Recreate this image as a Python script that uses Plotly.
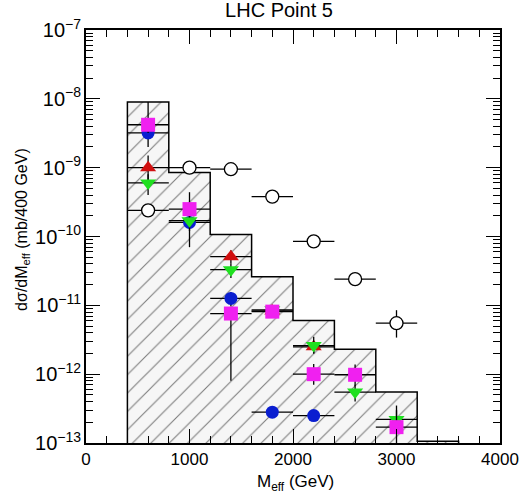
import plotly.graph_objects as go
import numpy as np

# ---- data ----
bin_edges = [400, 800, 1200, 1600, 2000, 2400, 2800, 3200, 3600]
hist_vals = [9.0e-9, 8.5e-10, 1.07e-10, 2.6e-11, 6.0e-12, 2.3e-12, 5.5e-13, 1.06e-13]

x_open = [600, 1000, 1400, 1800, 2200, 2600, 3000]
y_open = [2.4e-10, 1.0e-9, 9.5e-10, 3.8e-10, 8.5e-11, 2.4e-11, 5.5e-12]
up_open = [0.3e-10, 0.1e-9, 0.1e-9, 0.4e-10, 1.0e-11, 3.0e-12, 3.0e-12]
dn_open = [0.3e-10, 0.1e-9, 0.1e-9, 0.4e-10, 1.0e-11, 3.0e-12, 2.1e-12]

x_red = [600, 1400, 1800, 2200]
y_red = [1.0e-9, 5.1e-11, 8.3e-12, 2.5e-12]
up_red = [0.5e-9, 1.2e-11, 1.5e-12, 0.5e-12]
dn_red = [0.4e-9, 1.0e-11, 1.5e-12, 0.5e-12]

x_green = [600, 1000, 1400, 1800, 2200, 2600, 3000]
y_green = [6.0e-10, 1.7e-10, 3.3e-11, 8.6e-12, 2.6e-12, 5.5e-13, 2.2e-13]
up_green = [2.0e-10, 0.5e-10, 0.8e-11, 1.5e-12, 0.9e-12, 1.5e-13, 0.8e-13]
dn_green = [2.0e-10, 1.0e-10, 0.8e-11, 1.5e-12, 0.6e-12, 1.5e-13, 0.7e-13]

x_blue = [600, 1000, 1400, 1800, 2200]
y_blue = [3.2e-9, 1.6e-10, 1.26e-11, 2.8e-13, 2.5e-13]
up_blue = [1.3e-9, 0.4e-10, 0.3e-11, 0.5e-13, 0.5e-13]
dn_blue = [1.2e-9, 0.4e-10, 0.3e-11, 0.5e-13, 0.4e-13]

x_mag = [600, 1000, 1400, 1800, 2200, 2600, 3000]
y_mag = [4.2e-9, 2.5e-10, 7.6e-12, 8.1e-12, 1.0e-12, 9.8e-13, 1.7e-13]
up_mag = [4.8e-9, 1.9e-10, 1.5e-12, 1.5e-12, 0.4e-12, 0.4e-12, 1.8e-13]
dn_mag = [1.0e-9, 0.6e-10, 6.8e-12, 1.5e-12, 0.3e-12, 0.3e-12, 0.7e-13]

half_bin = 200
y_floor = 1e-13

# ---- histogram outline path from bins ----
hx, hy = [bin_edges[0]], [y_floor]
for i, v in enumerate(hist_vals):
    hx += [bin_edges[i], bin_edges[i + 1]]
    hy += [v, v]
hx.append(bin_edges[-1])
hy.append(y_floor)

fig = go.Figure()
fig.add_trace(go.Scatter(
    x=hx, y=hy, mode="lines", fill="toself",
    line=dict(color="black", width=1.5),
    fillcolor="#f6f6f6",
    fillpattern=dict(shape="/", fgcolor="black", bgcolor="#f6f6f6", size=13, solidity=0.08),
    hoverinfo="skip", showlegend=False,
))


def add_series(x, y, up, dn, symbol, color, size, line_color=None, line_width=0):
    fig.add_trace(go.Scatter(
        x=x, y=y, mode="markers",
        marker=dict(symbol=symbol, color=color, size=size,
                    line=dict(color=line_color or color, width=line_width)),
        error_x=dict(type="constant", value=half_bin, color="black", thickness=1.3, width=0),
        error_y=dict(type="data", symmetric=False, array=up, arrayminus=dn,
                     color="black", thickness=1.3, width=0),
        showlegend=False,
    ))


add_series(x_open, y_open, up_open, dn_open, "circle", "white", 13, "black", 1.3)
add_series(x_blue, y_blue, up_blue, dn_blue, "circle", "#0a1ed0", 13)
add_series(x_red, y_red, up_red, dn_red, "triangle-up", "#d01010", 14)
add_series(x_green, y_green, up_green, dn_green, "triangle-down", "#20e020", 14)
add_series(x_mag, y_mag, up_mag, dn_mag, "square", "#f020f0", 14)

font = "Liberation Sans, Arial, sans-serif"
fig.update_layout(
    width=521, height=499,
    margin=dict(l=86, r=21, t=30, b=56),
    paper_bgcolor="white", plot_bgcolor="white",
    font=dict(family=font, size=16, color="black"),
    title=dict(text="LHC Point 5", x=0.5355, xanchor="center", y=0.979, yanchor="middle",
               font=dict(size=20, family=font)),
    showlegend=False,
    annotations=[
        dict(text="dσ/dM<sub>eff</sub> (mb/400 GeV)", xref="paper", yref="paper",
             x=-0.155, y=0.518, textangle=-90, showarrow=False,
             xanchor="center", yanchor="middle", font=dict(size=16)),
        dict(text="M<sub>eff</sub> (GeV)", xref="paper", yref="paper",
             x=0.505, y=-0.097, showarrow=False,
             xanchor="center", yanchor="middle", font=dict(size=17)),
    ],
)
fig.update_xaxes(
    range=[0, 4000], dtick=1000, tick0=0, automargin=False,
    tickfont=dict(size=17),
    ticks="inside", ticklen=14, tickwidth=1.2, tickcolor="black",
    minor=dict(ticks="inside", dtick=200, ticklen=7, tickwidth=1, tickcolor="black"),
    showline=True, linecolor="black", linewidth=1.5, mirror="ticks",
    showgrid=False, zeroline=False,
)
fig.update_yaxes(
    type="log", range=[-13, -7], dtick=1, automargin=False,
    exponentformat="power", tickfont=dict(size=16),
    ticks="inside", ticklen=14, tickwidth=1.2, tickcolor="black",
    minor=dict(ticks="inside", dtick="D1", ticklen=7, tickwidth=1, tickcolor="black"),
    showline=True, linecolor="black", linewidth=1.5, mirror="ticks",
    showgrid=False, zeroline=False,
)

fig.write_html("out.html", config={"displayModeBar": False},
               post_script="document.body.style.margin='0';document.body.style.overflow='hidden';")
